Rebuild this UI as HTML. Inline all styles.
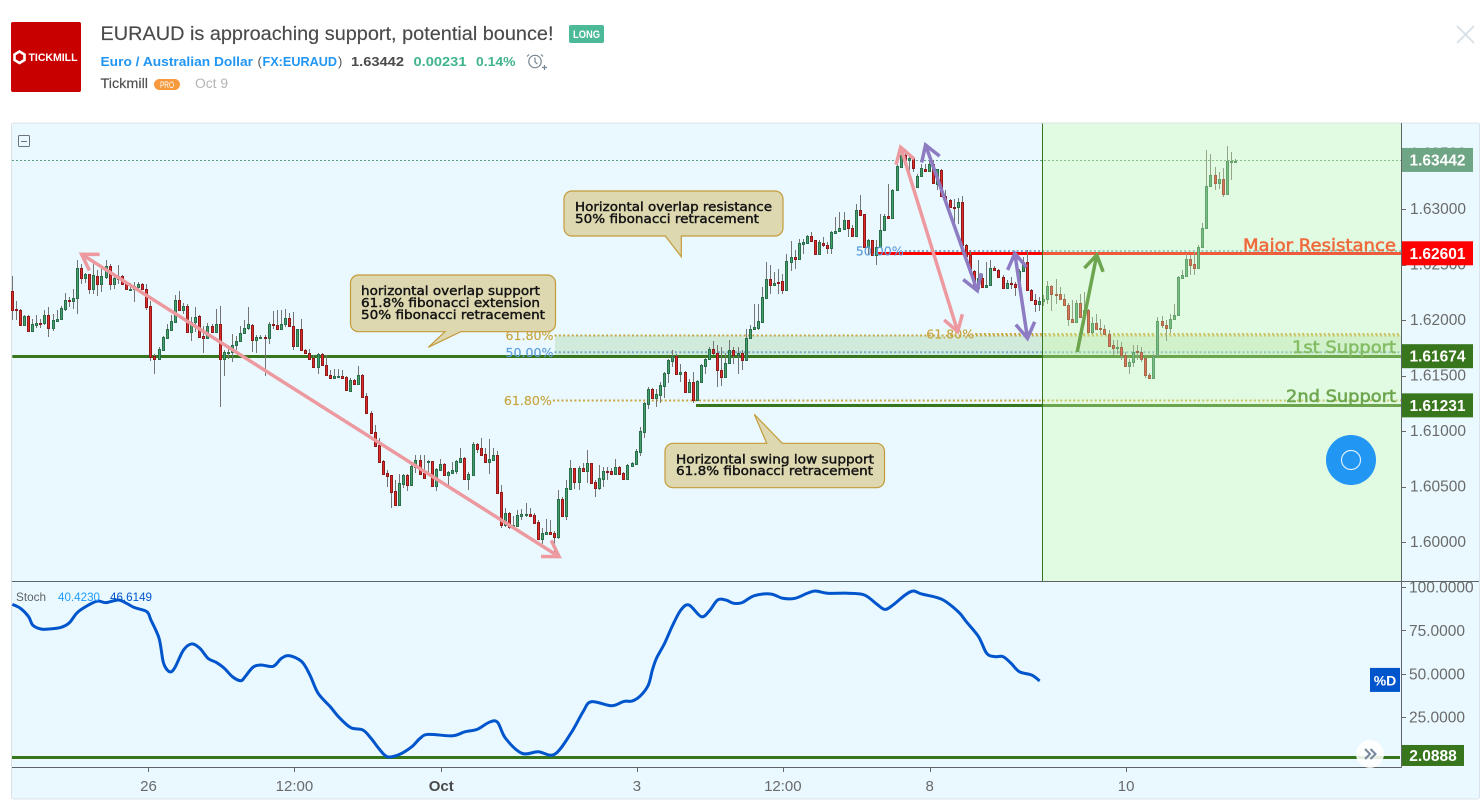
<!DOCTYPE html>
<html lang="en">
<head>
<meta charset="utf-8">
<title>EURAUD is approaching support, potential bounce!</title>
<style>
html,body{margin:0;padding:0;background:#fff;width:1484px;height:806px;overflow:hidden}
svg{display:block}
text{font-family:"Liberation Sans",sans-serif}
.dj{font-family:"DejaVu Sans","Liberation Sans",sans-serif}
.note{font-family:"DejaVu Sans","Liberation Sans",sans-serif;font-size:12px;fill:#131313;stroke:#131313;stroke-width:.4}
</style>
</head>
<body>
<svg id="chart" xmlns="http://www.w3.org/2000/svg" width="1484" height="806" viewBox="0 0 1484 806">
  <!-- Header -->
  <g>
    <rect x="11" y="22" width="70" height="70" rx="2" fill="#c80000"/>
    <polygon points="19.5,51.5 24.5,54.5 24.5,60 19.5,63 14.5,60 14.5,54.5" fill="none" stroke="#fff" stroke-width="2.6"/>
    <text x="28.5" y="61" font-size="11" font-weight="bold" fill="#fff" textLength="49" lengthAdjust="spacingAndGlyphs">TICKMILL</text>
    <text x="100.5" y="40" font-size="19.5" fill="#4a4a4a" stroke="#4a4a4a" stroke-width=".15" textLength="453" lengthAdjust="spacingAndGlyphs">EURAUD is approaching support, potential bounce!</text>
    <rect x="569" y="25" width="35" height="18" rx="2" fill="#4cba98"/>
    <text x="573" y="38" font-size="11" font-weight="bold" fill="#fff" textLength="27" lengthAdjust="spacingAndGlyphs">LONG</text>
    <text x="100.5" y="66" font-size="13" font-weight="bold" fill="#2196f3" textLength="152.5" lengthAdjust="spacingAndGlyphs">Euro / Australian Dollar</text>
    <text x="257.5" y="66" font-size="13" fill="#555">(</text>
    <text x="262.5" y="66" font-size="13" font-weight="bold" fill="#2196f3" textLength="74.5" lengthAdjust="spacingAndGlyphs">FX:EURAUD</text>
    <text x="338" y="66" font-size="13" fill="#555">)</text>
    <text x="351" y="66" font-size="13" font-weight="bold" fill="#4a4a4a" textLength="53" lengthAdjust="spacingAndGlyphs">1.63442</text>
    <text x="413.5" y="66" font-size="13" font-weight="bold" fill="#3fb48f" textLength="53" lengthAdjust="spacingAndGlyphs">0.00231</text>
    <text x="476" y="66" font-size="13" font-weight="bold" fill="#3fb48f" textLength="39.5" lengthAdjust="spacingAndGlyphs">0.14%</text>
    <g fill="none" stroke="#76858f" stroke-width="1.2">
      <circle cx="535" cy="61.5" r="6.2"/>
      <path d="M535 57.5v4.5l2.5 2M529 54.5l-2 2M541 54.5l2 2M542 67.5h5M544.5 65v5"/>
    </g>
    <text x="100.5" y="88" font-size="13.5" fill="#4f4f4f" stroke="#4f4f4f" stroke-width=".15" textLength="47.5" lengthAdjust="spacingAndGlyphs">Tickmill</text>
    <rect x="154" y="79" width="26" height="11" rx="5.5" fill="#f79a3e"/>
    <text x="160" y="88" font-size="9" fill="#fff" textLength="14" lengthAdjust="spacingAndGlyphs">PRO</text>
    <text x="195" y="88" font-size="13.5" fill="#b4b4b4" textLength="33" lengthAdjust="spacingAndGlyphs">Oct 9</text>
    <path d="M1457 26L1474 43M1474 26L1457 43" stroke="#d5dfe6" stroke-width="1.6" fill="none"/>
  </g>

  <!-- Panel -->
  <rect x="11.5" y="123" width="1468" height="676" rx="2" fill="#e9f9ff" stroke="#dbe3e8"/>

  <g id="levels-under"></g>
  <g id="candles" shape-rendering="crispEdges"></g>
  <g id="annotations"></g>

  <g>
    <text class="dj" x="1243" y="251" font-size="16.5" fill="#ff1a00" stroke="#ff1a00" stroke-width=".55" textLength="153" lengthAdjust="spacingAndGlyphs">Major Resistance</text>
    <text class="dj" x="1292" y="353" font-size="16.5" fill="#5c9a40" stroke="#5c9a40" stroke-width=".55" textLength="104" lengthAdjust="spacingAndGlyphs">1st Support</text>
    <text class="dj" x="1286" y="402" font-size="16.5" fill="#38761d" stroke="#38761d" stroke-width=".55" textLength="110" lengthAdjust="spacingAndGlyphs">2nd Support</text>
  </g>

  <!-- Forecast zone overlay -->
  <rect x="1042" y="123.5" width="359" height="457.5" fill="#d0ffac" fill-opacity=".35"/>
  <line x1="1042.5" y1="123.5" x2="1042.5" y2="581" stroke="#38761d" stroke-width="1"/>

  <!-- Callouts -->
  <g>
    <path d="M572 191H775a8 8 0 0 1 8 8V228a8 8 0 0 1 -8 8H681.3V256.7L665.3 236H572a8 8 0 0 1 -8 -8V199a8 8 0 0 1 8 -8Z" fill="#ddd8b0" stroke="#c49b3a" stroke-width="1.2"/>
    <text class="note" x="575" y="211" textLength="197" lengthAdjust="spacingAndGlyphs">Horizontal overlap resistance</text>
    <text class="note" x="575" y="223" textLength="184" lengthAdjust="spacingAndGlyphs">50% fibonacci retracement</text>
  </g>
  <g>
    <path d="M358.5 275H547.5a8 8 0 0 1 8 8V323.7a8 8 0 0 1 -8 8H460.7L428.3 347.3L445 331.7H358.5a8 8 0 0 1 -8 -8V283a8 8 0 0 1 8 -8Z" fill="#ddd8b0" stroke="#c49b3a" stroke-width="1.2"/>
    <text class="note" x="361" y="295" textLength="179" lengthAdjust="spacingAndGlyphs">horizontal overlap support</text>
    <text class="note" x="361" y="307" textLength="179" lengthAdjust="spacingAndGlyphs">61.8% fibonacci extension</text>
    <text class="note" x="361" y="319" textLength="184" lengthAdjust="spacingAndGlyphs">50% fibonacci retracement</text>
  </g>
  <g>
    <path d="M673 443.3H766.7L754.3 414.3L782.3 443.3H876.5a8 8 0 0 1 8 8V479.7a8 8 0 0 1 -8 8H673a8 8 0 0 1 -8 -8V451.3a8 8 0 0 1 8 -8Z" fill="#ddd8b0" stroke="#c49b3a" stroke-width="1.2"/>
    <text class="note" x="676" y="463.3" textLength="198" lengthAdjust="spacingAndGlyphs">Horizontal swing low support</text>
    <text class="note" x="676" y="475" textLength="197" lengthAdjust="spacingAndGlyphs">61.8% fibonacci retracement</text>
  </g>

  <!-- Axes / panes -->
  <line x1="1401.5" y1="123" x2="1401.5" y2="767.5" stroke="#5d6366"/>
  <line x1="12" y1="581.5" x2="1479" y2="581.5" stroke="#5d6366"/>
  <line x1="12" y1="767.5" x2="1401.5" y2="767.5" stroke="#5d6366"/>
  <g id="axes"></g>
  <g id="stoch-layer"></g>
  <g id="tags"></g>

  <!-- Stoch legend and controls -->
  <g>
    <text x="16" y="601" font-size="12" fill="#5f6366" textLength="30" lengthAdjust="spacingAndGlyphs">Stoch</text>
    <text x="58" y="601" font-size="12" fill="#1e9bff" textLength="42" lengthAdjust="spacingAndGlyphs">40.4230</text>
    <text x="110" y="601" font-size="12" fill="#0055cc" textLength="42" lengthAdjust="spacingAndGlyphs">46.6149</text>
  </g>
  <g fill="none" stroke="#6d7378">
    <rect x="18.5" y="135.5" width="11" height="11" rx="1"/>
    <line x1="21" y1="141.5" x2="27" y2="141.5"/>
  </g>
  <g>
    <circle cx="1351" cy="460" r="25" fill="#2196f3"/>
    <circle cx="1351" cy="460" r="9.5" fill="none" stroke="#d8eefe" stroke-width="1.2"/>
  </g>
  <g>
    <circle cx="1370" cy="754" r="14" fill="#ffffff" fill-opacity=".88"/>
    <path d="M1365 749l5 5l-5 5M1370.5 749l5 5l-5 5" fill="none" stroke="#76879c" stroke-width="2"/>
  </g>
</svg>

<script>
// Candles, in pips above the 1.60000 base price
const opens=[225.9,209.7,209.4,195.3,203.4,189.9,195.3,197.7,197.4,204.3,
192.9,199.2,201,210,218.4,217.2,220.2,247.2,237.9,241.2,
228,240,232.5,238.8,249,232.5,237,240,233.4,227.7,
228,229.8,232.2,228.3,212.4,167.4,165.3,173.4,183.9,191.4,
198.6,218.4,208.8,213,189.3,198.3,203.4,185.4,184.2,195,
189,196.2,165,170.4,171.3,177.3,181.2,188.4,192.9,195.9,
182.1,183.9,185.1,183.9,196.8,195.9,192,196.2,202.2,195,
176.7,191.7,173.4,170.7,165.6,157.8,169.8,159.9,150.9,147.9,
148.8,150,148.2,136.2,145.5,142.5,150.9,131.1,115.8,98.7,
87,72.6,61.8,60.3,45.6,33.3,52.2,60.3,51.6,67.8,
73.5,61.8,72.6,72.9,50.7,65.1,70.2,60.6,62.4,64.2,
72.3,75.3,56.7,60.6,88.2,84.6,78.9,72.3,73.8,78.3,
44.7,15.3,26.1,13.8,14.7,23.7,24.3,24.9,24,17.7,
2.7,7.5,9,7.8,4.8,38.4,23.4,48,66.3,54.3,
66.3,64.2,70.8,53.7,48.9,57,63.9,63.6,61.2,67.2,
61.8,57,68.7,70.2,81.3,99.3,124.5,137.4,129.9,132.3,
140.7,152.4,163.2,167.4,151.5,153.6,135.3,144,127.8,144,
158.7,164.7,174.3,170.7,155.4,148.8,161.4,173.4,168.3,170.7,
164.4,183.6,192,192.9,198.3,219.9,236.7,231.6,234.3,234.9,
227.1,252.3,256.5,255,268.5,269.4,275.4,271.8,259.5,269.7,
267.9,264.9,278.4,280.2,282,289.8,283.2,275.4,299.4,295.2,
265.8,271.8,258.3,265.8,280.8,293.4,291.6,316.8,337.8,348.3,
343.8,346.2,319.8,329.7,336.3,333.9,340.2,322.8,335.4,312,
308.4,302,301.8,306.6,267.6,258.3,243.9,228.6,238.2,229.8,
231.6,247.2,245.4,239.1,228.9,233.7,232.8,229.8,244.2,252.6,
227.4,218.4,214.5,217.2,219,231,223.8,223.2,219.3,213.9,
201.3,198,215.7,202.8,209.4,189.3,197.7,192.6,192.3,187.8,
177.3,175.5,176.1,168.6,158.4,162.3,171.9,171.6,165.6,150.9,
147.9,167.4,199.5,195.9,192.9,200.7,204.3,237.9,239.7,255.3,
250.2,246.9,265.5,282.9,320.7,330.9,323.7,327.3,313.5,343.2,
343.2];
const highs=[239.4,216.9,210.3,204.3,204.3,201.3,204.3,201.3,208.8,211.8,
205.2,208.8,212.4,224.4,220.8,228.3,253.8,250.8,242.4,241.8,
253.8,244.8,247.8,253.8,250.8,241.8,249.3,240.9,235.2,233.4,
234.3,234.3,233.4,232.8,217.2,169.8,175.8,185.4,196.8,204.3,
222.3,225.9,215.4,214.8,202.8,211.8,204.3,194.4,197.4,196.2,
210.3,212.4,172.8,175.8,187.2,185.4,194.7,199.8,211.8,196.8,
186.3,186.3,186.3,198.3,207.9,208.8,209.4,210,206.4,207,
192.3,201.3,174.3,174.3,168.3,170.4,170.4,168.3,154.8,156.3,
156.3,155.4,149.4,147.3,146.4,158.4,151.8,134.4,117.9,105.3,
93.3,73.8,64.8,60.3,55.8,61.2,60.9,60.9,71.4,78.3,
78.3,78.3,73.8,73.2,66.3,74.4,70.8,64.2,72.3,73.8,
84.9,76.2,63.3,90.3,89.4,93.3,84.3,92.7,84.3,81.9,
51.3,30.3,26.7,23.4,28.8,29.4,34.8,30.3,25.8,19.8,
12.3,20.4,19.8,10.2,46.8,40.8,55.8,73.8,66.9,68.4,
70.8,82.8,71.4,55.8,69.3,67.8,67.8,66.9,74.4,68.4,
63.3,70.2,72.3,84,103.8,126.3,139.2,138.3,137.4,144.3,
153.3,165.3,173.4,169.8,160.8,154.2,146.4,153.3,145.8,160.8,
166.8,175.8,180.9,177.3,175.8,170,181.8,175.8,176,172.8,
192.3,195.3,214.8,214.2,229.8,252.3,249.3,243.3,246.3,241.8,
259.8,270.9,262.8,273.3,273.3,276.9,279.3,272.4,271.8,274.8,
270.3,280.2,292.8,297.3,297.3,290.4,285.3,304.8,312.9,295.8,
273.3,272.4,271.8,295.2,295.8,322.8,318.3,340.2,352.8,354.3,
348.3,346.8,331.8,340.2,340.2,345.3,343.8,336.3,336,316.8,
309.3,309.3,310.2,311.4,268.2,263.4,244.8,254.4,241.8,252.3,
253.8,248.4,246.3,240.3,235.8,238.8,234.3,246.3,256.8,262.8,
228.3,223.8,220.8,222.3,235.2,231.9,236.7,229.8,223.8,215.4,
218.4,217.8,223.8,225.3,210.3,202.8,205.8,201.3,195.3,190.8,
181.8,181.8,180.3,171.3,165.3,177.3,177.3,175.8,166.8,152.4,
169.2,202.8,203.4,199.8,205.8,214.8,239.4,244.8,259.8,258.3,
261.3,267.3,287.4,353.4,349.8,337.8,333.3,337.2,356.4,351.3,
345.3];
const lows=[199.8,200.4,194.4,194.4,189.3,189.3,193.2,193.2,195.3,184.8,
190.2,198.3,199.8,208.2,211.8,210.3,205.2,232.8,233.4,223.8,
223.8,221.4,225.3,237.3,227.4,228.3,232.8,231.3,226.8,227.4,
216.3,226.8,226.8,208.8,163.2,151.2,164.4,172.8,183.3,190.8,
198,208.2,205.2,188.4,181.2,189.3,184.2,170.4,183.3,188.4,
188.4,121.8,149.4,165.3,162.3,173.4,180.3,187.8,191.4,171.3,
170.4,183.3,149.4,178.8,192.3,191.4,190.8,193.8,193.8,172.8,
175.8,172.2,169.2,164.4,157.2,151.2,158.4,150.3,147.3,147,
147.3,146.4,135.9,135.9,141.9,141.3,130.2,115.2,97.8,85.8,
71.4,60.3,49.8,30.9,33.3,32.7,48.3,45.9,51,61.8,
60.9,57,60.3,50.4,45.9,64.2,60,51.3,61.2,61.2,
71.7,55.8,46.8,60,79.8,77.4,71.7,61.2,73.2,43.8,
12.3,13.8,11.4,13.2,14.4,19.8,22.8,22.8,16.2,1.8,
-1.8,7.2,6.9,-13.2,2.4,22.8,19.8,47.4,47.4,46.8,
63.6,53.4,52.8,40.2,46.8,49.8,55.8,60.9,60.6,60.9,
56.4,56.4,68.1,69.3,77.4,93.9,120,129.3,121.8,125.4,
129.3,142.8,157.8,151.2,144.3,134.7,134.7,125.4,126.6,143.4,
151.8,163.8,168.3,139.8,140.7,147.9,160.8,160.2,151.2,154.8,
163.8,183,191.4,191.4,197.7,219.3,223.2,231,223.8,223.2,
226.5,244.2,246.3,254.4,259.8,268.8,270.3,258.9,258.9,265.8,
259.8,259.2,277.8,279.3,281.4,274.8,274.8,274.8,294,265.2,
258.3,257.7,249.3,265.2,280.2,291.3,291,316.2,337.2,343.2,
333.3,333.3,319.2,328.8,333.6,333.3,322.8,316.8,311.4,307.8,
301.2,286.8,286.8,266.7,257.4,242.7,228.3,226.8,229.2,229.2,
231,244.5,238.2,228.3,228.3,228.3,221.4,229.2,243.6,226.2,
217.2,207.3,207.9,212.4,214.8,208.2,214.8,218.4,213,194.4,
197.4,197.4,202.2,196.2,188.7,187.8,190.8,187.8,187.2,175.8,
168.3,169.8,163.8,157.8,151.8,157.8,163.8,162.3,147.3,147.3,
147.3,166.8,193.2,181.2,188.4,200.1,203.7,237,239.1,240.3,
240.3,246.3,264.9,281.7,320.1,317.4,318.3,310.8,312.3,325.8,
341.4];
const closes=[209.1,208.8,195.3,203.4,189.9,196.2,197.7,197.1,204.3,192.9,
199.8,201.3,210.6,218.4,217.5,220.2,247.2,238.2,241.2,228,
240.3,232.8,239.4,249,232.8,237.6,240,232.5,228,228,
230.4,232.2,228,212.1,166.8,165,173.7,184.5,191.7,198.9,
218.4,209.4,213,189.3,198.6,203.1,184.8,183.9,195,189,
196.2,165.3,171,171.6,177.9,181.5,188.7,193.2,196.2,182.1,
184.5,185.1,183.9,196.8,195.6,192,196.8,202.2,194.7,176.7,
191.7,173.1,170.4,165,157.8,169.5,159.6,150.6,147.9,149.1,
150,147.9,136.5,145.8,142.5,150.9,130.8,115.8,98.4,86.4,
72.3,61.2,59.4,45.3,33.3,52.8,60.3,51.3,68.4,73.5,
61.5,57.6,73.2,50.7,65.4,70.2,60.6,63,64.8,72.9,
75.3,56.7,61.2,88.2,84,78.3,72.3,74.4,78.3,44.4,
15.3,26.1,13.8,15,24.3,25.2,25.2,23.7,17.1,2.7,
7.8,9,7.5,4.8,38.4,23.4,48.3,66.3,54.3,66.3,
64.2,70.8,53.4,48.9,57.3,63.9,63.3,61.5,67.2,61.5,
57,69,70.8,81.6,99.6,124.8,137.4,129.9,132.9,141,
152.7,163.8,167.4,151.8,153.6,135.3,143.7,127.8,144.6,159.3,
165.3,174.3,170.4,155.4,148.8,161.7,173.4,168.3,170.7,163.8,
184.2,192.3,193.5,198.9,220.5,236.7,231.9,233.7,233.1,227.1,
252.9,256.5,255,269.1,270,275.4,271.2,259.5,270,267.3,
264.9,279,280.5,282.6,289.8,282.9,275.7,299.4,294.6,265.8,
271.8,258.3,266.1,281.4,293.4,291.9,317.4,338.4,348.3,343.8,
346.2,336.9,330,336.6,334.2,340.2,323.7,335.7,312,308.4,
301.8,301.7,306.6,267.3,258,243.3,228.9,238.2,229.8,231.9,
247.2,245.1,238.8,228.9,233.7,232.8,229.8,244.5,252.6,226.8,
217.8,214.8,217.5,219,231,223.5,222.9,219,213.6,201,
198,215.7,202.8,209.4,189.3,197.7,192,192,187.8,177,
175.2,176,168.3,158.4,162.6,171.6,171.6,165.3,150.6,147.9,
167.7,199.5,195.6,192.9,201.3,204.9,238.5,240.3,255.3,249.9,
246.9,265.8,283.2,321,330.9,323.7,327.3,313.5,343.2,343.3,
343.4];

// Stochastic %D readings at selected bars
const stochBars=[0,2,4,5,7,9,12,14,16,19,21,23,26,28,30,33,34,36,37,38,
39,40,42,44,46,48,50,52,54,56,57,59,61,64,66,68,71,73,75,78,
80,83,86,88,90,92,95,98,100,102,108,111,114,117,119,121,125,129,133,137,
140,142,147,150,152,154,156,157,158,160,162,164,166,169,171,173,175,177,179,182,
186,189,192,195,197,200,205,209,212,214,216,219,221,223,228,232,234,237,239,241,
243,245,247,250,252];
const stochValues=[90,87.7,82.9,78.1,75.8,75.8,76.8,79.4,85.4,90,91.9,91,92.5,90.6,88.1,85.8,81,70.4,57,52.2,
51.2,54.1,63.7,67.2,64.7,58.9,56.6,53.2,48.3,46,48,53.7,55.1,54.3,58.9,60.4,57,49.3,38.8,31,
25.3,19,17.6,12.8,6.7,2.2,3.6,8,12.8,15.1,14.3,16.6,18,22.1,22.1,12.8,4.2,5.1,3.6,15.7,
28.2,33.9,31.6,34.1,34.3,37.2,43.5,52.2,58.9,67.6,78.1,86.8,89.6,82.9,86.3,92.5,92.5,90.6,91,95,
96,93.5,93.5,96.4,97.7,96.4,96.4,95.4,90.2,87.1,89.6,95.4,97.7,96,92.9,85.8,80,71.4,61.8,59.9,
59.9,56,51.2,49.3,45.9];

// Axis ticks
const priceTicks=[1.6,1.605,1.61,1.615,1.62,1.625,1.63,1.635];
const priceTickLabels=['1.60000','1.60500','1.61000','1.61500','1.62000','1.62500','1.63000','1.63500'];
const stochTicks=[100,75,50,25];
const stochTickLabels=['100.0000','75.0000','50.0000','25.0000'];
const timeTickBars=[33.4,69.2,105.2,153.2,189,225,273.2];
const timeTickLabels=['26','12:00','Oct','3','12:00','8','10'];

// Horizontal levels and Fibonacci levels
const lastPrice=1.63442;
const levelPrices=[1.62601,1.61674,1.61231];
const levelStartBars=[212,0,167.7];
const levelNames=['major-resistance','first-support','second-support'];
const fibPrices=[1.6186,1.61709,1.61275,1.62622,1.61874];
const fibStartBars=[133,133,132.6,218.9,236.2];
const fibLabels=['61.80%','50.00%','61.80%','50.00%','61.80%'];
const stochFloorValue=2.0888;

// Trend arrows: start and end as bar / pips above base
const arrowFromBars=[134.1,217.9,224,245.9,261.2];
const arrowFromPips=[-13.2,355.6,357.7,260,171.2];
const arrowToBars=[17,231.9,236.7,249,266];
const arrowToPips=[259.2,189.5,226.4,183.5,258.6];

const BASE=1.6, PIP=0.0001;
const barX=b=>12.3+b*4.077;
const priceY=p=>542-(p-BASE)*11100;
const pipY=v=>priceY(BASE+v*PIP);
const stochY=v=>760.6-v*1.736;
const NS='http://www.w3.org/2000/svg';
function make(parent,tag,attrs,txt){
  const el=document.createElementNS(NS,tag);
  for(const k in attrs)el.setAttribute(k,attrs[k]);
  if(txt!==undefined)el.textContent=txt;
  parent.appendChild(el);
  return el;
}
const levelsG=document.getElementById('levels-under');
const candleG=document.getElementById('candles');
const annotG=document.getElementById('annotations');
const axesG=document.getElementById('axes');
const stochG=document.getElementById('stoch-layer');
const tagsG=document.getElementById('tags');
const AXIS_X=1401;

// Shaded support zone
const zone=make(levelsG,'rect',{x:barX(133.1),y:priceY(fibPrices[0]),width:AXIS_X-barX(133.1),height:priceY(levelPrices[1])-priceY(fibPrices[0]),fill:'rgb(120,180,90)','fill-opacity':.22});



// Last price line
const lastLine=make(levelsG,'line',{x1:12,y1:Math.round(priceY(lastPrice))+.5,x2:AXIS_X,y2:Math.round(priceY(lastPrice))+.5,stroke:'#5aa07a','stroke-width':1,'stroke-dasharray':'2 2'});



// Fibonacci dotted lines + labels
fibPrices.forEach((p,i)=>{
  const gold=fibLabels[i]==='61.80%';
  const color=gold?'#c9a53f':'#5f9fdc';
  const line=make(levelsG,'line',{x1:barX(fibStartBars[i]),y1:priceY(p),x2:AXIS_X,y2:priceY(p),stroke:gold?'#c8a640':'#74aac8','stroke-width':2,'stroke-dasharray':'2 2.3'});
  
  
  const label=make(annotG,'text',{class:'dj',x:barX(fibStartBars[i])-49,y:priceY(p)+4.5,'font-size':12.5,fill:color,stroke:color,'stroke-width':.15,textLength:48,lengthAdjust:'spacingAndGlyphs'},fibLabels[i]);
  
  
});

// Horizontal level lines
levelPrices.forEach((p,i)=>{
  const line=make(levelsG,'line',{x1:barX(levelStartBars[i]),y1:Math.round(priceY(p))+.5,x2:AXIS_X,y2:Math.round(priceY(p))+.5,stroke:i===0?'#ff0000':'#38761d','stroke-width':3});
  
  
});

// Candles
opens.forEach((o,i)=>{
  const c=closes[i], up=c>=o;
  const col=Math.floor(barX(i));
  const g=make(candleG,'g',{});
  
  
  const wick=make(g,'rect',{x:col,y:Math.round(pipY(highs[i])),width:1,height:Math.max(1,Math.round(pipY(lows[i]))-Math.round(pipY(highs[i]))),fill:'#747474'});
  
  
  const top=Math.round(pipY(Math.max(o,c))), bot=Math.round(pipY(Math.min(o,c)));
  const body=make(g,'rect',{x:col-.5,y:top+.5,width:2,height:Math.max(bot-top,1),fill:up?'#43a06c':'#e02a2a',stroke:up?'#2a6f4a':'#8e1a1a','stroke-width':1});
  
  
});

// Arrows
const arrowColors=['#ec9a9f','#ec9a9f','#8e7cc3','#8e7cc3','#38761d'];
const arrowNames=['arrow-decline-pink','arrow-drop-pink','arrow-leg-purple','arrow-pullback-purple','arrow-target-green'];
function headPath(x,y,fx,fy){
  const a=Math.atan2(fy-y,fx-x), L=18, sp=32*Math.PI/180;
  const ax=x+L*Math.cos(a+sp), ay=y+L*Math.sin(a+sp), bx=x+L*Math.cos(a-sp), by=y+L*Math.sin(a-sp);
  return 'M'+ax+' '+ay+'L'+x+' '+y+'L'+bx+' '+by;
}
arrowFromBars.forEach((b,i)=>{
  const x1=barX(b), y1=pipY(arrowFromPips[i]), x2=barX(arrowToBars[i]), y2=pipY(arrowToPips[i]);
  let d='M'+x1+' '+y1+'L'+x2+' '+y2+headPath(x2,y2,x1,y1);
  if(i<4)d+=headPath(x1,y1,x2,y2);
  const path=make(annotG,'path',{d:d,fill:'none',stroke:arrowColors[i],'stroke-width':3.5,'stroke-linejoin':'miter'});
  
  
});

// Price axis
priceTicks.forEach((p,i)=>{
  const y=priceY(p);
  const tick=make(axesG,'line',{x1:AXIS_X,y1:Math.round(y)+.5,x2:AXIS_X+5,y2:Math.round(y)+.5,stroke:'#6a6a6a'});
  
  
  const label=make(axesG,'text',{x:1410,y:y+4.8,'font-size':15.5,fill:'#6a6a6a'},priceTickLabels[i]);
  
  
});
// Stoch axis
stochTicks.forEach((v,i)=>{
  const y=stochY(v);
  const tick=make(axesG,'line',{x1:AXIS_X,y1:Math.round(y)+.5,x2:AXIS_X+5,y2:Math.round(y)+.5,stroke:'#6a6a6a'});
  
  
  const label=make(axesG,'text',{x:1409,y:y+5.5,'font-size':15.5,fill:'#6a6a6a'},stochTickLabels[i]);
  
  
});
// Time axis
timeTickBars.forEach((b,i)=>{
  const x=barX(b);
  const tick=make(axesG,'line',{x1:Math.round(x)+.5,y1:767.5,x2:Math.round(x)+.5,y2:772,stroke:'#6a6a6a'});
  
  
  const isOct=timeTickLabels[i]==='Oct';
  const label=make(axesG,'text',{x:x,y:791,'text-anchor':'middle','font-size':15,'font-weight':isOct?'bold':'normal',fill:isOct?'#4a4a4a':'#6a6a6a'},timeTickLabels[i]);
  
  
});

// Stoch floor level + %D line (smooth path through the readings)
const floorLine=make(stochG,'line',{x1:12,y1:Math.round(stochY(stochFloorValue))+.5,x2:AXIS_X-1,y2:Math.round(stochY(stochFloorValue))+.5,stroke:'#38761d','stroke-width':3});


const pts=stochBars.map((b,i)=>[barX(b),stochY(stochValues[i])]);
let dPath='M'+pts[0][0]+' '+pts[0][1];
for(let i=0;i<pts.length-1;i++){
  const p0=pts[Math.max(0,i-1)],p1=pts[i],p2=pts[i+1],p3=pts[Math.min(pts.length-1,i+2)];
  const c1x=p1[0]+(p2[0]-p0[0])/6,c1y=p1[1]+(p2[1]-p0[1])/6,c2x=p2[0]-(p3[0]-p1[0])/6,c2y=p2[1]-(p3[1]-p1[1])/6;
  dPath+='C'+c1x+' '+c1y+' '+c2x+' '+c2y+' '+p2[0]+' '+p2[1];
}
const stochLine=make(stochG,'path',{d:dPath,fill:'none',stroke:'#0055cc','stroke-width':3,'stroke-linejoin':'round'});



// Axis tags
function tag(name,y,x,w,h,fill,text,size){
  const g=make(tagsG,'g',{});
  
  
  const bg=make(g,'rect',{x:x,y:y-h/2,width:w,height:h,fill:fill});
  
  
  const t=make(g,'text',{x:x+w/2,y:y+5.5,'text-anchor':'middle','font-size':size||15.5,'font-weight':'bold',fill:'#fff'},text);
  
  
}
tag('last-price-tag',priceY(lastPrice),1402,71,24,'#6ea584',lastPrice.toFixed(5));
levelPrices.forEach((p,i)=>{
  tag(levelNames[i]+'-tag',priceY(p),1402,71,24,i===0?'#ff0000':'#38761d',p.toFixed(5));
});
tag('stoch-floor-tag',stochY(stochFloorValue)-1.5,1402,62,21,'#38761d',stochFloorValue.toFixed(4));
tag('stoch-d-tag',stochY(stochValues[stochValues.length-1])-1,1370,30,24,'#0055cc','%D',14);
</script>
</body>
</html>
